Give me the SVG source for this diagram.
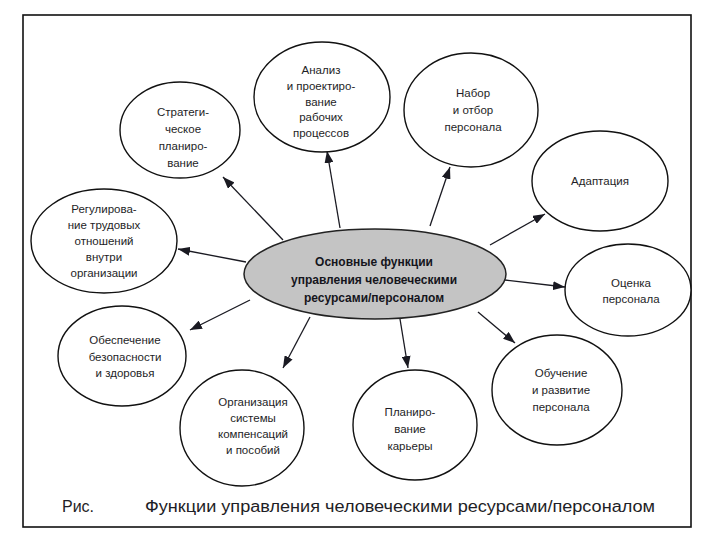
<svg xmlns="http://www.w3.org/2000/svg" width="720" height="540" viewBox="0 0 720 540">
<defs>
<marker id="ah" viewBox="0 0 12 9" refX="12" refY="4.5" markerWidth="12" markerHeight="9" markerUnits="userSpaceOnUse" orient="auto">
<path d="M0,0 L12,4.5 L0,9 z" fill="#1a1a22"/>
</marker>
</defs>
<style>
.node{fill:#fff;stroke:#111;stroke-width:1.4}
.t{font-family:"Liberation Sans","DejaVu Sans",sans-serif;font-size:11.5px;fill:#1e1e26;text-anchor:middle}
.c{fill:#c4c4c4;stroke:#222;stroke-width:1.5}
.ct{font-family:"Liberation Sans","DejaVu Sans",sans-serif;font-size:12px;font-weight:bold;fill:#15151c;text-anchor:middle}
.ln{stroke:#1a1a22;stroke-width:1.3;fill:none;marker-end:url(#ah)}
.cap{font-family:"Liberation Sans","DejaVu Sans",sans-serif;font-size:16px;fill:#1e1e26}
</style>
<rect width="720" height="540" fill="#fff"/>
<rect x="23" y="15" width="668" height="512" fill="none" stroke="#111" stroke-width="1.6"/>
<g id="connectors">
<line class="ln" x1="283" y1="240" x2="223" y2="177"/>
<line class="ln" x1="340" y1="228" x2="327" y2="151"/>
<line class="ln" x1="430" y1="226" x2="450" y2="167"/>
<line class="ln" x1="490" y1="245" x2="545" y2="214"/>
<line class="ln" x1="505" y1="280" x2="565" y2="287"/>
<line class="ln" x1="478" y1="312" x2="515" y2="343"/>
<line class="ln" x1="400" y1="319" x2="408" y2="368"/>
<line class="ln" x1="310" y1="317" x2="283" y2="368"/>
<line class="ln" x1="250" y1="300" x2="190" y2="330"/>
<line class="ln" x1="246" y1="262" x2="178" y2="249"/>
</g>
<g id="center">
<ellipse class="c" cx="375" cy="274" rx="131" ry="45"/>
<text class="ct" x="374" y="266">Основные функции</text>
<text class="ct" x="374" y="284">управления человеческими</text>
<text class="ct" x="374" y="302">ресурсами/персоналом</text>
</g>
<g id="strategic">
<ellipse class="node" cx="180" cy="130" rx="60" ry="48"/>
<text class="t" x="183" y="116">Стратеги-</text>
<text class="t" x="183" y="133">ческое</text>
<text class="t" x="183" y="150">планиро-</text>
<text class="t" x="183" y="167">вание</text>
</g>
<g id="analysis">
<ellipse class="node" cx="322" cy="97" rx="68" ry="55"/>
<text class="t" x="321" y="74">Анализ</text>
<text class="t" x="321" y="90">и проектиро-</text>
<text class="t" x="321" y="106">вание</text>
<text class="t" x="321" y="121">рабочих</text>
<text class="t" x="321" y="137">процессов</text>
</g>
<g id="recruit">
<ellipse class="node" cx="471" cy="110" rx="67" ry="57"/>
<text class="t" x="473" y="97">Набор</text>
<text class="t" x="473" y="114">и отбор</text>
<text class="t" x="473" y="131">персонала</text>
</g>
<g id="adapt">
<ellipse class="node" cx="600" cy="181" rx="68" ry="50"/>
<text class="t" x="600" y="185">Адаптация</text>
</g>
<g id="labor">
<ellipse class="node" cx="104" cy="241" rx="73" ry="52"/>
<text class="t" x="104" y="213">Регулирова-</text>
<text class="t" x="104" y="229">ние трудовых</text>
<text class="t" x="104" y="245">отношений</text>
<text class="t" x="104" y="261">внутри</text>
<text class="t" x="104" y="277">организации</text>
</g>
<g id="assess">
<ellipse class="node" cx="628" cy="290" rx="63" ry="46"/>
<text class="t" x="631" y="287">Оценка</text>
<text class="t" x="631" y="303">персонала</text>
</g>
<g id="safety">
<ellipse class="node" cx="122" cy="356" rx="64" ry="50"/>
<text class="t" x="125" y="344">Обеспечение</text>
<text class="t" x="125" y="361">безопасности</text>
<text class="t" x="125" y="377">и здоровья</text>
</g>
<g id="compensation">
<ellipse class="node" cx="242" cy="428" rx="62" ry="58"/>
<text class="t" x="253" y="406">Организация</text>
<text class="t" x="253" y="422">системы</text>
<text class="t" x="253" y="438">компенсаций</text>
<text class="t" x="253" y="454">и пособий</text>
</g>
<g id="career">
<ellipse class="node" cx="415" cy="425" rx="62" ry="55"/>
<text class="t" x="410" y="416">Планиро-</text>
<text class="t" x="410" y="433">вание</text>
<text class="t" x="410" y="450">карьеры</text>
</g>
<g id="training">
<ellipse class="node" cx="557" cy="390" rx="65" ry="55"/>
<text class="t" x="561" y="377">Обучение</text>
<text class="t" x="561" y="394">и развитие</text>
<text class="t" x="561" y="411">персонала</text>
</g>
<g id="caption">
<text class="cap" x="62" y="512">Рис.</text>
<text class="cap" x="145" y="512" textLength="510" lengthAdjust="spacingAndGlyphs">Функции управления человеческими ресурсами/персоналом</text>
</g>
</svg>
